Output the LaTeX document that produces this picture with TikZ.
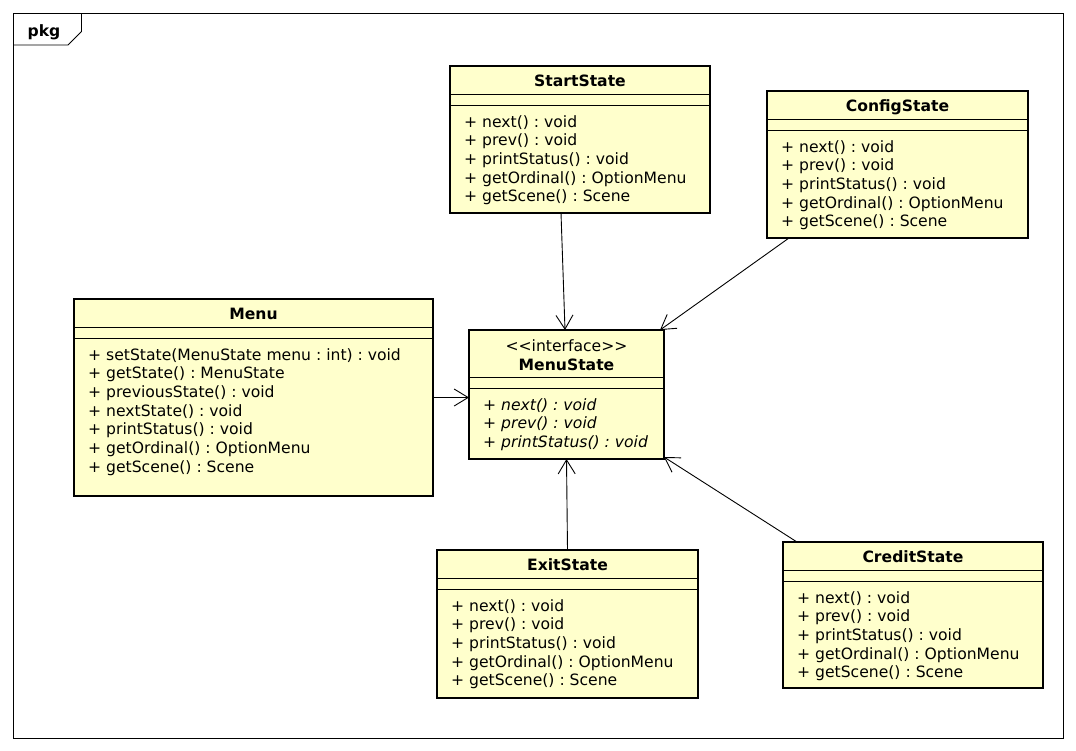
\documentclass[tikz,border=0pt]{standalone}
\usepackage{fontspec}
\setmainfont{DejaVu Sans}
\usetikzlibrary{arrows.meta}
\definecolor{classfill}{RGB}{255,255,204}
\frenchspacing
\newcommand{\drawclass}[7]{%
  \node[classbox, minimum width=#4pt, minimum height=#5pt] (#1) at (#2,#3) {};
  \node[title] (#1-title) at ({#2+#4/2},{#3+20.5}) {#6};
  \draw[sep] (#1.north west) ++(0,28) -- ++(#4,0);
  \draw[sep] (#1.north west) ++(0,39) -- ++(#4,0);
  \foreach \m [count=\i] in {#7} \node[member] (#1-m\i) at ({#2+14},{#3+42.3+\i*18.7}) {\m};
}
\begin{document}
\begin{tikzpicture}[x=1pt,y=-1pt,
  classbox/.style={draw, line width=2.4pt, fill=classfill, outer sep=0pt, inner sep=0pt, anchor=north west},
  member/.style={anchor=base west, inner sep=0pt, font=\fontsize{15.6}{18.7}\selectfont\frenchspacing},
  title/.style={anchor=base, inner sep=0pt, font=\fontsize{15.6}{18.7}\selectfont\bfseries},
  sep/.style={line width=0.9pt},
  frame/.style={line width=0.9pt},
  assoc/.style={line width=0.9pt, -{Straight Barb[length=14pt,width=17pt]}}]
\useasboundingbox (0,0) rectangle (1076,750);
% frame
\node[draw, frame, minimum width=1050pt, minimum height=725pt, anchor=north west, inner sep=0pt, outer sep=0pt] (frame) at (13,13) {};
\draw[frame] (13,45) -- (68,45) -- (81.5,31.5) -- (81.5,13);
\node[title] (pkg) at (44,36) {pkg};
% classes
\drawclass{start}{450}{66}{260}{147}{StartState}{{+ next() : void},{+ prev() : void},{+ printStatus() : void},{+ getOrdinal() : OptionMenu},{+ getScene() : Scene}}
\drawclass{config}{767}{91}{261}{147}{ConfigState}{{+ next() : void},{+ prev() : void},{+ printStatus() : void},{+ getOrdinal() : OptionMenu},{+ getScene() : Scene}}
\drawclass{menu}{74}{299}{359}{197}{Menu}{{+ setState(MenuState menu : int) : void},{+ getState() : MenuState},{+ previousState() : void},{+ nextState() : void},{+ printStatus() : void},{+ getOrdinal() : OptionMenu},{+ getScene() : Scene}}
\drawclass{exit}{437}{550}{261}{148}{ExitState}{{+ next() : void},{+ prev() : void},{+ printStatus() : void},{+ getOrdinal() : OptionMenu},{+ getScene() : Scene}}
\drawclass{credit}{783}{542}{260}{146}{CreditState}{{+ next() : void},{+ prev() : void},{+ printStatus() : void},{+ getOrdinal() : OptionMenu},{+ getScene() : Scene}}
% interface
\node[classbox, minimum width=195pt, minimum height=129pt] (mstate) at (469,330) {};
\node[member, anchor=base] (mstate-st) at (566.5,351) {<{}<interface>{}>};
\node[title] (mstate-title) at (566.5,370) {MenuState};
\draw[sep] (mstate.north west) ++(0,47) -- ++(195,0);
\draw[sep] (mstate.north west) ++(0,58) -- ++(195,0);
\foreach \m [count=\i] in {{+ next() : void},{+ prev() : void},{+ printStatus() : void}}
  \node[member, font=\fontsize{15.6}{18.7}\selectfont\frenchspacing\itshape] (mstate-m\i) at (483,{391.3+\i*18.7}) {\m};
% connectors
\draw[assoc] ([xshift=111pt]start.south west) -- ([xshift=96pt]mstate.north west);
\draw[assoc] ([xshift=22pt]config.south west) -- ([xshift=-4pt]mstate.north east);
\draw[assoc] (menu.east) -- (menu.east -| mstate.west);
\draw[assoc] (exit.north) -- (mstate.south);
\draw[assoc] ([xshift=14pt]credit.north west) -- ([yshift=2pt]mstate.south east);
\end{tikzpicture}
\end{document}
